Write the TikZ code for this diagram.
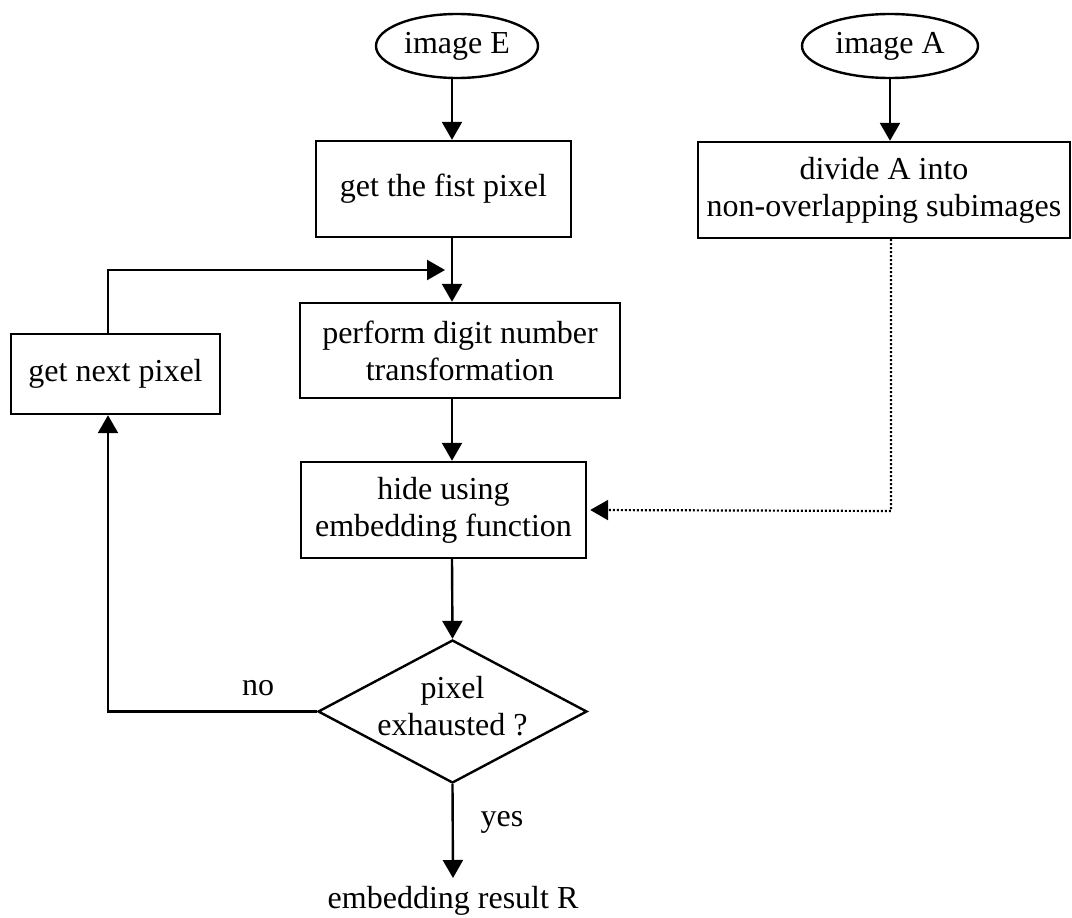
\documentclass[tikz,border=0pt]{standalone}
\usepackage{fontspec}
\setmainfont{Liberation Serif}
\usetikzlibrary{arrows.meta,shapes.geometric}
\begin{document}
\begin{tikzpicture}[x=1pt,y=-1pt,
  every node/.style={font=\fontsize{32}{37}\selectfont, inner sep=0pt},
  boxnode/.style={draw, line width=2.4pt, rectangle, align=center},
  ellnode/.style={draw, line width=2.4pt, ellipse},
  decnode/.style={draw, line width=2.4pt, diamond},
  arr/.style={line width=2.4pt, -{Triangle[width=20pt,length=18pt]}},
  dotarr/.style={line width=2.2pt, dash pattern=on 2pt off 2pt, -{Triangle[width=20pt,length=18pt]}},
  plain/.style={line width=2.4pt}]
\useasboundingbox (0,0) rectangle (1072,918);

\coordinate (colx) at (452,0);
\coordinate (leftx) at (108,0);

\node[ellnode, minimum width=162pt, minimum height=64pt] (imgE) at (457,46) {image E};
\node[ellnode, minimum width=176pt, minimum height=64pt] (imgA) at (890,46) {image A};

\node[boxnode, minimum width=255pt, minimum height=96pt] (b1) at (443.5,189) {get the fist pixel};
\node[boxnode, minimum width=372pt, minimum height=96pt] (bA) at (884,190) {divide A into\\non-overlapping subimages};
\node[boxnode, minimum width=320pt, minimum height=95pt] (b2) at (460,350.5) {perform digit number\\transformation};
\node[boxnode, minimum width=209pt, minimum height=80pt] (bN) at (115.5,374) {get next pixel};
\node[boxnode, minimum width=285pt, minimum height=96pt] (b3) at (443.5,510) {hide using\\embedding function};

\node[decnode, minimum width=269pt, minimum height=143pt] (dec) at (452.5,711.5) {};
\node[align=center] (dectext) at (452.5,706) {pixel\\exhausted ?};

\node (no) at (258,688) {no};
\node (yes) at (502,822) {yes};
\node[anchor=north] (res) at (453,886) {embedding result R};

\coordinate (loopin) at (445,270);
\coordinate (dotc) at (891,511);

\draw[arr] (imgE.south -| colx) -- (b1.north -| colx);
\draw[arr] (imgA.south) -- (bA.north -| imgA.south);
\draw[arr] (b1.south -| colx) -- (b2.north -| colx);
\draw[arr] (bN.north -| leftx) |- (loopin);
\draw[arr] (b2.south -| colx) -- (b3.north -| colx);
\draw[arr] (b3.south -| colx) -- (dec.north);
\draw[arr] (dec.west) -| (bN.south -| leftx);
\draw[arr] (dec.south) -- ([yshift=8pt]res.north);
\draw[dotarr] (bA.south -| dotc) -- (dotc) -- ([xshift=3pt]b3.east);
\end{tikzpicture}
\end{document}
